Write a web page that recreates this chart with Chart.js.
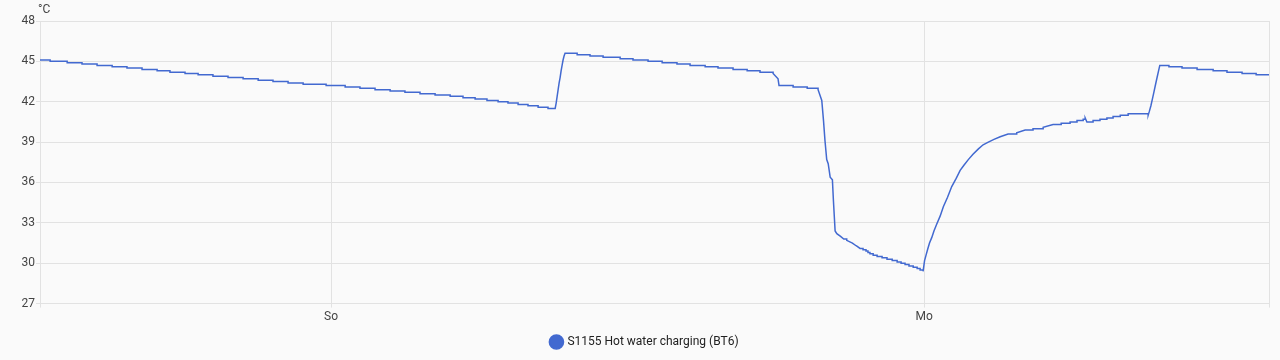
<!DOCTYPE html>
<html><head><meta charset="utf-8">
<script src="https://cdn.jsdelivr.net/npm/chart.js@4"></script>
<style>html,body{margin:0;padding:0;background:#fafafa;}#wrap{width:1280px;height:360px;}</style>
</head><body><div id="wrap"><canvas id="c" width="1280" height="360"></canvas></div>
<script>
// time of each reading, hours relative to Sunday 00:00
const hours = [
  -11.78,-11.37,-10.68,-10.08,-9.47,-8.86,-8.26,-7.65,-7.04,-6.52,-5.91,-5.38,-4.78,-4.17,-3.56,-2.95,-2.35,-1.74,-1.13,-0.20,
  0.57,1.17,1.78,2.39,2.99,3.60,4.21,4.82,5.34,5.83,6.31,6.76,7.16,7.57,7.97,8.38,8.78,9.07,
  9.11,9.15,9.19,9.23,9.27,9.31,9.35,9.39,9.43,9.47,
  9.96,10.48,11.01,11.70,12.22,12.83,13.40,14.00,14.53,15.14,15.66,16.27,16.84,17.36,17.89,18.09,18.13,18.70,19.27,19.71,
  19.86,19.93,19.99,20.06,20.12,20.20,20.29,20.33,20.40,20.47,20.62,20.75,20.87,21.10,21.25,21.41,
  21.53,21.65,21.73,21.81,21.94,22.10,22.30,22.50,22.71,22.91,23.07,23.23,23.39,23.56,23.72,23.84,23.96,
  24.02,24.08,24.14,24.22,24.31,24.40,24.51,24.65,24.78,24.95,25.12,25.30,25.46,25.62,25.79,25.98,26.20,26.39,26.60,26.83,
  27.08,27.40,27.75,28.09,28.41,28.82,29.22,29.55,29.91,30.19,30.44,30.52,30.59,30.84,31.12,31.40,31.65,31.94,32.26,33.07,
  33.12,33.18,33.24,33.30,33.37,33.43,33.49,33.54,33.91,34.44,35.05,35.70,36.26,36.87,37.44,37.96
];
// temperature (°C) reading at that time
const temps = [
  45.1,45.0,44.9,44.8,44.7,44.6,44.5,44.4,44.3,44.2,44.1,44.0,43.9,43.8,43.7,43.6,43.5,43.4,43.3,43.2,
  43.1,43.0,42.9,42.8,42.7,42.6,42.5,42.4,42.3,42.2,42.1,42.0,41.9,41.8,41.7,41.6,41.5,41.5,
  41.9,42.4,42.9,43.4,43.8,44.3,44.7,45.1,45.4,45.6,
  45.5,45.4,45.3,45.2,45.1,45.0,44.9,44.8,44.7,44.6,44.5,44.4,44.3,44.2,44.1,43.7,43.2,43.1,43.0,42.9,
  42.1,40.6,39.1,37.7,37.4,36.4,36.2,34.7,32.4,32.2,32.0,31.8,31.7,31.5,31.3,31.1,
  31.0,30.9,30.8,30.7,30.6,30.5,30.4,30.3,30.2,30.1,30.0,29.9,29.8,29.7,29.6,29.5,29.4,
  30.2,30.6,31.0,31.5,31.9,32.4,32.9,33.5,34.2,34.9,35.7,36.3,36.9,37.3,37.7,38.1,38.5,38.8,39.0,39.2,
  39.4,39.6,39.7,39.9,40.0,40.1,40.3,40.4,40.5,40.6,40.7,40.8,40.5,40.6,40.7,40.8,40.9,41.0,41.1,41.0,
  41.3,41.7,42.2,42.7,43.3,43.8,44.3,44.7,44.6,44.5,44.4,44.3,44.2,44.1,44.0,44.0
];
const dayTicks = [0, 24];
const dayLabels = ['So', 'Mo'];
const yTicks = [27, 30, 33, 36, 39, 42, 45, 48];
const seriesName = 'S1155 Hot water charging (BT6)';
const unit = '°C';
const xMin = -11.78, xMax = 37.96;

// sensor resolution steps (0.1 °C) are held until the next reading; larger changes drawn as slopes
const points = [];
hours.forEach((h, i) => {
  if (i > 0 && Math.abs(temps[i] - temps[i - 1]) < 0.15) points.push({x: h, y: temps[i - 1]});
  points.push({x: h, y: temps[i]});
});

const color = '#4269d0';
const unitPlugin = {
  id: 'unit',
  afterDraw(chart) {
    const ctx = chart.ctx;
    ctx.save();
    ctx.font = '12px Roboto';
    ctx.fillStyle = '#444';
    ctx.textAlign = 'left';
    ctx.textBaseline = 'middle';
    ctx.fillText(unit, chart.chartArea.left - 2, 10);
    ctx.restore();
  }
};
Chart.defaults.font.family = 'Roboto';
Chart.defaults.font.size = 12;
new Chart(document.getElementById('c'), {
  type: 'line',
  data: {
    datasets: [{
      label: seriesName,
      data: points,
      borderColor: color,
      backgroundColor: color,
      borderWidth: 1.5,
      pointRadius: 0,
      tension: 0,
      fill: false
    }]
  },
  options: {
    responsive: false,
    animation: false,
    layout: {padding: {top: 21, right: 11, left: 21, bottom: 2}},
    plugins: {
      legend: {
        position: 'bottom',
        labels: {usePointStyle: true, pointStyle: 'circle', boxWidth: 10, boxHeight: 10, color: '#212121', font: {size: 12}, padding: 10}
      },
      tooltip: {enabled: false}
    },
    scales: {
      x: {
        type: 'linear', min: xMin, max: xMax,
        afterBuildTicks(s) { s.ticks = [xMin, ...dayTicks, xMax].map(v => ({value: v})); },
        ticks: {
          autoSkip: false, maxRotation: 0, color: '#444', padding: 2,
          callback(v) { const i = dayTicks.indexOf(v); return i >= 0 ? dayLabels[i] : ''; }
        },
        grid: {color: '#e2e2e2', tickLength: 4},
        border: {color: '#e2e2e2'}
      },
      y: {
        min: 27, max: 48,
        afterBuildTicks(s) { s.ticks = yTicks.map(v => ({value: v})); },
        afterFit(s) { s.width = 19; },
        ticks: {color: '#444', padding: 1},
        grid: {color: '#e2e2e2', tickLength: 4},
        border: {color: '#e2e2e2'}
      }
    }
  },
  plugins: [unitPlugin]
});
</script></body></html>
